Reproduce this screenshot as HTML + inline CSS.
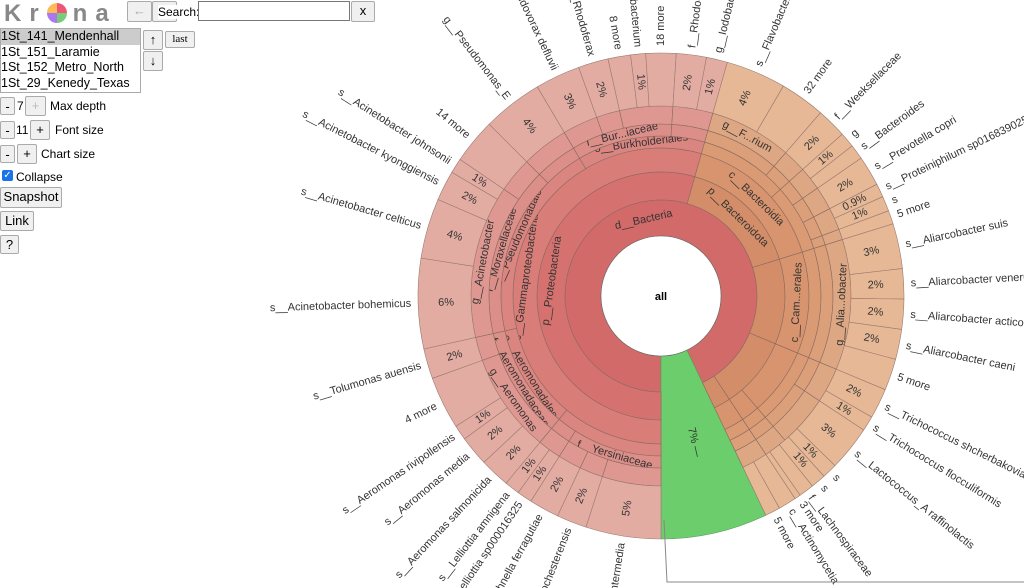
<!DOCTYPE html>
<html><head><meta charset="utf-8">
<style>
body{margin:0;width:1024px;height:588px;overflow:hidden;background:#fff;font-family:"Liberation Sans",sans-serif;position:relative}
.b{position:absolute;border:1px solid #aaa;background:#f0f0f0;border-radius:2px;font-size:13px;color:#000;box-sizing:border-box;text-align:center;line-height:17px}
.t{position:absolute;font-size:12px;color:#000}
</style></head><body>
<div style="position:absolute;left:4px;top:0;font-size:24px;font-weight:bold;color:#888;letter-spacing:8px">Kr<span style="display:inline-block;width:20px;height:20px;border-radius:50%;background:conic-gradient(#e57 0 25%,#7c7 0 50%,#a7e 0 75%,#fb5 0);vertical-align:-2px;margin-right:6px"></span>na</div>
<div class="b" style="left:127px;top:1px;width:25px;height:21px;color:#aaa">←</div>
<div class="b" style="left:152px;top:1px;width:25px;height:21px;color:#aaa">→</div>
<div class="t" style="left:158px;top:5px;background:#fff">Search:</div>
<div style="position:absolute;left:198px;top:1px;width:152px;height:20px;border:1px solid #777;box-sizing:border-box"></div>
<div class="b" style="left:351px;top:1px;width:24px;height:21px">x</div>
<div style="position:absolute;left:0;top:28px;width:141px;height:65px;border:1px solid #aaa;box-sizing:border-box;font-size:12.5px;line-height:15.5px;overflow:hidden">
<div style="background:#ccc">1St_141_Mendenhall</div><div>1St_151_Laramie</div><div>1St_152_Metro_North</div><div>1St_29_Kenedy_Texas</div></div>
<div class="b" style="left:143px;top:30px;width:20px;height:20px">↑</div>
<div class="b" style="left:143px;top:51px;width:20px;height:20px">↓</div>
<div class="b" style="left:165px;top:31px;width:30px;height:17px;font-family:'Liberation Serif',serif;font-size:11px;line-height:15px">last</div>
<div class="b" style="left:0;top:97px;width:15px;height:18px">-</div><div class="t" style="left:17px;top:99px">7</div>
<div class="b" style="left:25px;top:96px;width:21px;height:20px;color:#bbb">+</div><div class="t" style="left:50px;top:99px">Max depth</div>
<div class="b" style="left:0;top:121px;width:15px;height:18px">-</div><div class="t" style="left:16px;top:123px">11</div>
<div class="b" style="left:30px;top:120px;width:20px;height:20px">+</div><div class="t" style="left:55px;top:123px">Font size</div>
<div class="b" style="left:0;top:145px;width:15px;height:18px">-</div>
<div class="b" style="left:17px;top:144px;width:20px;height:20px">+</div><div class="t" style="left:41px;top:147px">Chart size</div>
<div style="position:absolute;left:2px;top:170px;width:11px;height:11px;background:#1a73e8;border-radius:2px;color:#fff;font-size:10px;line-height:11px;text-align:center">✓</div><div class="t" style="left:16px;top:170px">Collapse</div>
<div class="b" style="left:0;top:187px;width:62px;height:21px">Snapshot</div>
<div class="b" style="left:0;top:211px;width:34px;height:20px">Link</div>
<div class="b" style="left:0;top:235px;width:19px;height:19px">?</div>
<svg id="c" width="1024" height="588" style="position:absolute;left:0;top:0;overflow:hidden" font-family="Liberation Sans, sans-serif" font-size="11"></svg>
<script>
const cx=661,cy=296;
const ringRadii=[60,96,124,148,160,172,190,243];
const r1Names=["d__Bacteria","—"];
const r1Values=[92.9,7.1];
const r1Groups=["r","g"];
const r2Names=["p__Proteobacteria","p__Bacteroidota","p__Campylobacterota","p__Firmicutes","p__A...iota"];
const r2Values=[54.4,15.8,11.1,9.4,2.2];
const r2Groups=["r","o","o","o","o"];
const r3Names=["c__Gammaproteobacteria","c__Bacteroidia","c__Cam...erales","c__B...illi","c__Cl...ridia","c"];
const r3Values=[54.4,15.8,11.1,7.4,2,2.2];
const r3Groups=["r","o","o","o","o","o"];
const r4Names=["o__Enterobacterales","o__Aeromonadales","o__Pseudomonadales","o__Burkholderiales","o__Fla...riales","o__Bac...idales","o","o__Lact...illales","o","o"];
const r4Values=[11,10.5,20,12.9,9,6.8,11.1,7.4,2,2.2];
const r4Groups=["r","r","r","r","o","o","o","o","o","o"];
const r5Names=["f__Yersiniaceae","f__Entero...teriaceae","f__Aeromonadaceae","f__Moraxellaceae","f__Ps...aceae","f__Bur...iaceae","f__Ch...aceae","f__Flav...riaceae","f__Weeksellaceae","f","f","f","f","f","f","f","f__Lachnospiraceae","f"];
const r5Values=[9,2,10.5,16,4,9.5,3.4,7,2,2,2,1.9,0.9,11.1,3,4.4,2,2.2];
const r5Groups=["r","r","r","r","r","r","r","o","o","o","o","o","o","o","o","o","o","o"];
const r6Names=["g__Y...inia","g","g","g","g__Aeromonas","g","g__Acinetobacter","g","g__Pseudomonas_E","g__Acidovorax","g","g","g","g__F...rium","g","g","g","g","g","g","g__Alia...obacter","g__...us","g__Lactococcus_A","g","g"];
const r6Values=[5,2,2,2,8.5,2,13,3,4,3,2,4.5,3.4,7,2,2,2,1.9,0.9,0,11.1,3,4.4,2,2.2];
const r6Groups=["r","r","r","r","r","r","r","r","r","r","r","r","r","o","o","o","o","o","o","o","o","o","o","o","o"];
const spNames=["s__Yersinia intermedia","s__Serratia rochesterensis","s__Rahnella ferragutiae","s__Lelliottia sp000016325","s__Lelliottia amnigena","s__Aeromonas salmonicida","s__Aeromonas media","s__Aeromonas rivipollensis","4 more","s__Tolumonas auensis","s__Acinetobacter bohemicus","s__Acinetobacter celticus","s__Acinetobacter kyonggiensis","s__Acinetobacter johnsonii","14 more","g__Pseudomonas_E","s__Acidovorax defluvii","g__Rhodoferax","8 more","s__Janthinobacterium","18 more","f__Rhodocyclaceae","g__Iodobacter","s__Flavobacterium","32 more","f__Weeksellaceae","g","s__Bacteroides","s__Prevotella copri","s__Proteiniphilum sp016839025","s","5 more","s__Aliarcobacter suis","s__Aliarcobacter venerupis","s__Aliarcobacter acticola","s__Aliarcobacter caeni","5 more","s__Trichococcus shcherbakoviae","s__Trichococcus flocculiformis","s__Lactococcus_A raffinolactis","s","s","f__Lachnospiraceae","3 more","c__Actinomycetia","5 more"];
const spValues=[5,2,2,1,1,2,2,1,3.5,2,6,4,2,1,3,4,3,2,1.5,1,2,2,1.4,4,3,2,1,1,2,0.9,1,0.9,3,2,2,2,2.1,2,1,3,1,1,1,0.4,1.2,1.0];
const spPct=["5%","2%","2%","1%","1%","2%","2%","1%","","2%","6%","4%","2%","1%","","4%","3%","2%","","1%","","2%","1%","4%","","2%","1%","","2%","0.9%","1%","","3%","2%","2%","2%","","2%","1%","3%","1%","1%","","","",""];
const spGroups=spValues.map((v,i)=>i<23?"r":"o");
const palette={r:["#d16a69","#d5726f","#d87d78","#da8580","#dc8e88","#df9891","#e3aca3"],o:["#d16a69","#d48d69","#d7946e","#d99a74","#db9f7a","#dea783","#e6b896"],g:["#6ccd6c"]};
const svg=document.getElementById('c');const NS="http://www.w3.org/2000/svg";
function P(a,r){const t=a*Math.PI/180;return [cx+r*Math.sin(t),cy-r*Math.cos(t)];}
function angleOf(v){return v*3.6;}
function arc(a0,a1,r0,r1){const [x0,y0]=P(a0,r1),[x1,y1]=P(a1,r1),[x2,y2]=P(a1,r0),[x3,y3]=P(a0,r0);const l=(a1-a0)>180?1:0;
return `M${x0},${y0}A${r1},${r1} 0 ${l} 1 ${x1},${y1}L${x2},${y2}A${r0},${r0} 0 ${l} 0 ${x3},${y3}Z`;}
function label(txt,a,r,mode,anchor,name){const t=document.createElementNS(NS,'text');
let tr;let rad=r;
if(mode==='rad'){const right=((a%360)+360)%360<180;
 if(right){tr=`translate(${cx},${cy}) rotate(${a-90})`;t.setAttribute('x',rad);t.setAttribute('text-anchor',anchor||'start');}
 else{tr=`translate(${cx},${cy}) rotate(${a+90})`;t.setAttribute('x',-rad);t.setAttribute('text-anchor',anchor==='start'?'end':(anchor==='end'?'start':(anchor||'end')));}
 t.setAttribute('y',0);t.setAttribute('dominant-baseline','middle');}
else{const n=((a%360)+360)%360;const top=n<90||n>270;
 if(top){tr=`translate(${cx},${cy}) rotate(${a})`;t.setAttribute('y',-rad);}
 else{tr=`translate(${cx},${cy}) rotate(${a+180})`;t.setAttribute('y',rad);}
 t.setAttribute('x',0);t.setAttribute('text-anchor','middle');t.setAttribute('dominant-baseline','middle');}
t.setAttribute('transform',tr);t.setAttribute('fill','#333');t.textContent=txt;


svg.appendChild(t);return t;}
function ring(names,values,groups,depth){let a=180;const r0=ringRadii[depth-1];
values.forEach((v,i)=>{const span=angleOf(v);if(span<=0){return;}
 const g=groups[i];const r1=g==='g'?ringRadii[7]:ringRadii[depth];
 const p=document.createElementNS(NS,'path');
 const col=g==='g'?palette.g[0]:palette[g][depth-1];
 p.setAttribute('d',arc(a,a+span,r0,r1));p.setAttribute('fill',col);p.setAttribute('stroke',g==='g'?'#5a9a5a':'#8a6a60');p.setAttribute('stroke-width','0.6');
 
 
 svg.appendChild(p);
 const mid=a+span/2,rm=(r0+r1)/2;
 if(g!=='g'&&names[i].length>1){const arcLen=span*Math.PI/180*rm;const tl=names[i].length*5.6;
  if(arcLen>tl+6) label(names[i],mid,rm,'tan',null,'ring-label');
  else if(r1-r0>tl) label(names[i],mid,rm,'rad','middle','ring-label');}
 a+=span;});}
ring(r1Names,r1Values,r1Groups,1);ring(r2Names,r2Values,r2Groups,2);ring(r3Names,r3Values,r3Groups,3);
ring(r4Names,r4Values,r4Groups,4);ring(r5Names,r5Values,r5Groups,5);ring(r6Names,r6Values,r6Groups,6);
let a=180;
spValues.forEach((v,i)=>{const span=angleOf(v);const p=document.createElementNS(NS,'path');
 p.setAttribute('d',arc(a,a+span,ringRadii[6],ringRadii[7]));p.setAttribute('fill',palette[spGroups[i]][6]);p.setAttribute('stroke','#9a7a70');p.setAttribute('stroke-width','0.6');
 
 
 svg.appendChild(p);
 const mid=a+span/2;
 if(spPct[i]) label(spPct[i],mid,215,'rad','middle','species-percent');
 label(spNames[i],mid,250,'rad','start','species-label');
 a+=span;});
label("7%  —",180+angleOf(92.9+3.55),150,'rad','middle','unassigned-label');
const c=document.createElementNS(NS,'circle');c.setAttribute('cx',cx);c.setAttribute('cy',cy);c.setAttribute('r',60);c.setAttribute('fill','#fff');c.setAttribute('stroke','#666');c.setAttribute('stroke-width','0.6');


svg.appendChild(c);
const t=document.createElementNS(NS,'text');t.setAttribute('x',cx);t.setAttribute('y',cy+4);t.setAttribute('text-anchor','middle');t.setAttribute('font-weight','bold');t.textContent='all';


svg.appendChild(t);
const ln=document.createElementNS(NS,'path');ln.setAttribute('d','M664,520L667,582L1024,582');ln.setAttribute('fill','none');ln.setAttribute('stroke','#888');


svg.appendChild(ln);
</script>
</body></html>
